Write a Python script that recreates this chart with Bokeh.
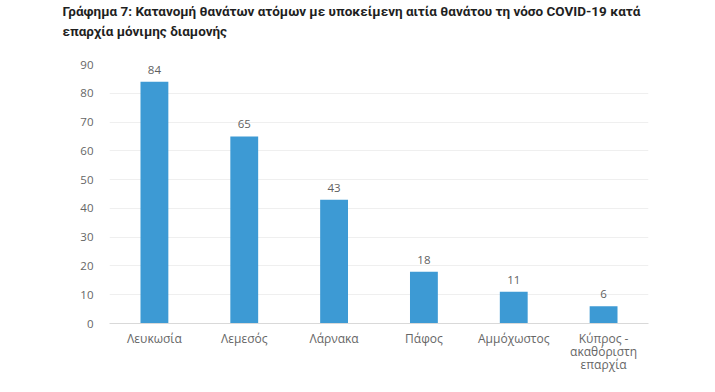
from bokeh.plotting import figure
from bokeh.models import ColumnDataSource, Title, Range1d, FixedTicker
from bokeh.embed import file_html
from bokeh.resources import INLINE
from bokeh.core.properties import value

categories = ["Λευκωσία", "Λεμεσός", "Λάρνακα", "Πάφος", "Αμμόχωστος", "Κύπρος -\nακαθόριστη\nεπαρχία"]
deaths = [84, 65, 43, 18, 11, 6]
y_ticks = [0, 10, 20, 30, 40, 50, 60, 70, 80, 90]

src = ColumnDataSource(dict(cat=categories, val=deaths, lbl=[str(v) for v in deaths]))

p = figure(x_range=categories, y_range=Range1d(0, 90), width=699, height=376,
           output_backend="svg", toolbar_location=None,
           min_border_left=109, min_border_right=51, min_border_bottom=52, min_border_top=10)
p.outline_line_color = None
p.background_fill_color = "white"

p.vbar(x="cat", top="val", width=0.31, source=src, color="#3D9AD4", line_color=None)
p.text(x="cat", y="val", text="lbl", source=src, text_align="center", text_baseline="bottom",
       y_offset=-8, text_font=value("Open Sans"), text_font_size="11.5px", text_color="#5f5f5f")

p.yaxis.ticker = FixedTicker(ticks=y_ticks)
p.yaxis.axis_line_color = None
p.yaxis.major_tick_line_color = None
p.yaxis.minor_tick_line_color = None
p.yaxis.major_label_text_font = "Open Sans"
p.yaxis.major_label_text_font_size = "11.5px"
p.yaxis.major_label_text_color = "#666666"
p.yaxis.major_label_standoff = 10

p.xaxis.axis_line_color = "#d9d9d9"
p.xaxis.major_tick_line_color = None
p.xaxis.minor_tick_line_color = None
p.xaxis.major_label_text_font = "Open Sans"
p.xaxis.major_label_text_font_size = "12px"
p.xaxis.major_label_text_color = "#666666"
p.xaxis.major_label_standoff = 0
p.xaxis.major_label_text_line_height = 0.78

p.xgrid.grid_line_color = None
p.ygrid.grid_line_color = "#efefef"
p.ygrid.ticker = FixedTicker(ticks=y_ticks)

title_lines = ["Γράφημα 7: Κατανομή θανάτων ατόμων με υποκείμενη αιτία θανάτου τη νόσο COVID-19 κατά",
               "επαρχία μόνιμης διαμονής"]
# spacer between title block and plot frame
p.add_layout(Title(text=" ", text_font_size="13px", standoff=6), "above")
for line, so in zip(reversed(title_lines), [5, 0]):
    t = Title(text=line, align="left", offset=-47, text_font="Roboto",
              text_font_size="13.5px", text_font_style="bold", text_color="#1f1f1f",
              standoff=so)
    p.add_layout(t, "above")

open("out.html", "w").write(file_html(p, INLINE))
